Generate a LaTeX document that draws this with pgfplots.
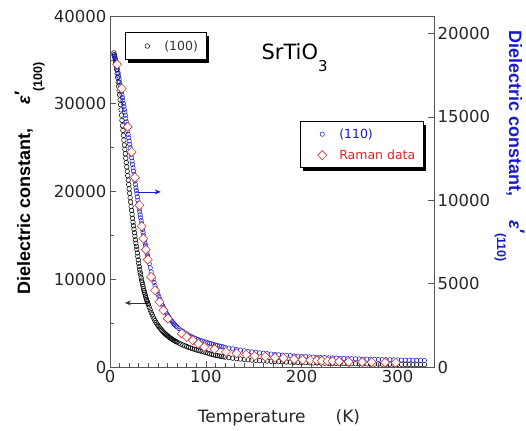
\documentclass[border=0pt]{standalone}
\usepackage{pgfplots}
\pgfplotsset{compat=1.18}
\usepackage{fontspec}
\setmainfont{DejaVu Sans}
\newfontfamily\labfont{Liberation Sans}
\usetikzlibrary{shadows,arrows.meta}

\definecolor{bluec}{RGB}{25,25,205}
\definecolor{redc}{RGB}{225,35,35}
\definecolor{diac}{RGB}{205,60,60}
\definecolor{axc}{RGB}{85,85,85}

\pgfplotstableread{
T eps
4 35800
4.5 35600
5 35400
5.5 35100
6 34700
6.5 34300
7 33900
7.5 33450
8 33000
8.5 32500
9 32000
9.5 31500
10 31000
10.5 30450
11 29900
11.5 29300
12 28700
12.5 28100
13 27500
13.5 26950
14 26400
14.5 25850
15 25300
15.5 24800
16 24300
16.5 23800
17 23300
17.5 22800
18 22300
18.5 21800
19 21300
19.5 20800
20 20300
20.5 19800
21 19300
21.5 18800
22 18300
22.5 17850
23 17400
23.5 16950
24 16500
24.5 16100
25 15700
25.5 15300
26 14900
26.5 14500
27 14100
27.5 13750
28 13400
28.5 13000
29 12600
29.5 12200
30 11800
30.5 11450
31 11100
31.5 10800
32 10500
32.5 10200
33 9900
33.5 9650
34 9400
34.5 9150
35 8900
35.5 8700
36 8500
36.5 8300
37 8100
37.5 7900
38 7700
38.5 7550
39 7400
39.5 7250
40 7100
41 6800
42 6500
43 6200
44 5950
45 5700
46 5480
47 5280
48 5090
49 4910
50 4750
51 4600
52 4450
53 4310
54 4180
55 4060
56 3950
57 3840
58 3740
59 3640
60 3550
61 3460
62 3380
63 3300
64 3220
65 3150
66 3080
67 3010
68 2950
69 2890
70 2830
72 2720
74 2610
76 2510
78 2420
80 2330
82 2250
84 2170
86 2090
88 2020
90 1950
92 1890
94 1830
96 1770
98 1710
100 1660
102 1580
104 1500
106 1440
108 1390
110 1340
112 1290
114 1250
116 1210
118 1170
120 1130
124 1070
128 1010
132 955
136 910
140 865
144 825
148 790
152 760
156 730
160 700
164 675
168 650
172 630
176 610
180 590
184 570
188 555
192 537
196 522
200 508
204 494
208 481
212 469
216 457
220 446
224 435
228 425
232 416
236 407
240 398
244 389
248 381
252 374
256 366
260 359
264 352
268 346
272 339
276 333
280 327
284 321
288 316
292 311
296 305
300 300
304 296
308 291
312 286
316 282
320 278
324 274
328 270
}\tblack

\pgfplotstableread{
T eps
4 18700
4.5 18630
5 18550
5.5 18450
6 18350
6.5 18230
7 18100
7.5 17950
8 17800
8.5 17630
9 17450
9.5 17280
10 17100
10.5 16920
11 16750
11.5 16620
12 16500
12.5 16330
13 16150
13.5 15980
14 15800
14.5 15630
15 15450
15.5 15280
16 15100
16.5 14900
17 14700
17.5 14530
18 14350
18.5 14150
19 13950
19.5 13750
20 13550
20.5 13350
21 13150
21.5 12950
22 12750
22.5 12550
23 12350
23.5 12150
24 11950
24.5 11750
25 11550
25.5 11350
26 11150
26.5 10950
27 10750
27.5 10580
28 10400
28.5 10200
29 10000
29.5 9830
30 9650
30.5 9480
31 9300
31.5 9130
32 8950
32.5 8780
33 8600
33.5 8430
34 8250
34.5 8080
35 7900
35.5 7750
36 7600
36.5 7450
37 7300
37.5 7150
38 7000
38.5 6850
39 6700
39.5 6580
40 6450
41 6200
42 5950
43 5700
44 5480
45 5270
46 5070
47 4880
48 4700
49 4530
50 4370
51 4220
52 4070
53 3930
54 3800
55 3670
56 3550
57 3430
58 3320
59 3220
60 3120
61 3030
62 2940
63 2860
64 2780
65 2710
66 2640
67 2570
68 2510
69 2450
70 2400
72 2300
74 2210
76 2130
78 2050
80 1980
82 1910
84 1850
86 1790
88 1740
90 1690
92 1640
94 1600
96 1560
98 1520
100 1490
102 1455
104 1420
106 1385
108 1350
110 1320
112 1290
114 1260
116 1230
118 1205
120 1180
124 1130
128 1090
132 1050
136 1010
140 975
144 940
148 910
152 880
156 850
160 825
164 800
168 775
172 755
176 735
180 715
184 695
188 680
192 665
196 650
200 635
204 620
208 608
212 596
216 585
220 574
224 563
228 553
232 543
236 534
240 525
244 516
248 508
252 500
256 492
260 485
264 478
268 471
272 464
276 458
280 452
284 446
288 440
292 435
296 430
300 425
304 420
308 415
312 410
316 405
320 400
324 396
328 392
}\tblue

\pgfplotstableread{
T eps
7.5 18150
12.2 16700
18.5 14400
22.6 12900
26.1 11360
30.7 9700
33.1 8440
34.8 7700
37.3 7040
39.4 6440
42.9 5400
47.0 4600
51.6 3900
55.7 3400
60.3 2900
74.9 2000
80.1 1800
86.4 1600
92.3 1400
98.3 1200
109 1070
121 900
132 820
142 740
151 660
162 620
172 560
181 520
192 470
201 430
209 410
216 390
221 370
227 360
232 350
239 330
249 310
263 300
273 290
287 270
298 260
}\traman

\begin{document}
\begin{tikzpicture}[x=1pt,y=1pt]
\useasboundingbox (0,0) rectangle (526,430);
\pgfplotsset{
  myaxis/.style={
    at={(110pt,63pt)}, anchor=south west,
    scale only axis, width=324pt, height=351pt,
    xmin=0, xmax=338,
    tick align=inside,
    major tick length=6pt, minor tick length=3.5pt,
    tick style={axc, line width=0.6pt},
    axis line style={axc, line width=0.8pt},
    ticklabel style={font=\fontsize{16.5}{18}\selectfont, text=black!85},
    /pgf/number format/1000 sep={},
    /pgf/number format/assume math mode=true,
    scaled ticks=false,
    clip=false,
    legend cell align=left,
    legend image code/.code={\draw[##1] plot coordinates {(16pt,0pt)}; \node[inner sep=0pt,outer sep=0pt,draw=none,fill=none,minimum size=0pt] at (0pt,0pt) {}; \node[inner sep=0pt,outer sep=0pt,draw=none,fill=none,minimum size=0pt] at (31pt,0pt) {};},
  }
}
\begin{axis}[myaxis,
  ymin=0, ymax=40000,
  xtick={0,100,200,300}, minor x tick num=9,
  ytick={0,10000,20000,30000,40000}, minor y tick num=1,
  xtick pos=bottom, ytick pos=left,
  legend style={at={(0.046,0.954)}, anchor=north west, draw=black, line width=0.8pt,
    fill=white, drop shadow={shadow xshift=3pt, shadow yshift=-3pt, opacity=1, fill=black},
    font=\fontsize{12.5}{14}\selectfont, inner xsep=6pt, inner ysep=6pt},
]
\addplot[only marks, mark=o, mark size=2.3pt, black, mark options={line width=0.5pt}] table[x=T,y=eps] {\tblack};
\addlegendentry{\textcolor{black!80}{(100)}\hspace{8pt}}
\draw[-{Stealth[length=6pt,width=5pt]}, bluec, line width=0.8pt] (axis cs:29,19950) -- (axis cs:53,19950);
\draw[-{Stealth[length=6pt,width=5pt]}, black!80, line width=0.8pt] (axis cs:39.6,7300) -- (axis cs:15.6,7300);
\end{axis}
\begin{axis}[myaxis,
  ymin=0, ymax=21050,
  axis x line=none, axis y line*=right,
  ytick={0,5000,10000,15000,20000},
  legend style={at={(0.586,0.70)}, anchor=north west, draw=black, line width=0.8pt,
    fill=white, drop shadow={shadow xshift=3pt, shadow yshift=-3pt, opacity=1, fill=black},
    font=\fontsize{12.5}{14}\selectfont, inner xsep=6pt, inner ysep=5pt, row sep=6pt},
]
\addplot[only marks, mark=o, mark size=2.2pt, bluec, mark options={line width=0.5pt}] table[x=T,y=eps] {\tblue};
\addlegendentry{\textcolor{bluec}{(110)}}
\addplot[only marks, mark=square*, mark size=3.2pt, mark options={rotate=45, fill=white, draw=diac, line width=0.6pt}] table[x=T,y=eps] {\traman};
\addlegendentry{\textcolor{redc}{Raman data}}
\end{axis}

\node[anchor=base west, font=\fontsize{21}{24}\selectfont] at (258,370) {SrTiO\raisebox{-12pt}{\fontsize{15}{16}\selectfont 3}};
\node[anchor=base, font=\fontsize{17}{20}\selectfont, text=black!85] at (279,8) {Temperature\hspace{30pt}(K)};
\node[anchor=base west, rotate=90, inner sep=0pt] at (30,135) {\labfont\bfseries\fontsize{18}{20}\selectfont Dielectric constant,\hspace{24pt}\itshape ε\raisebox{3pt}{′}\raisebox{-12pt}{\upshape\fontsize{12.5}{14}\selectfont (100)}};
\node[anchor=base west, rotate=-90, inner sep=0pt, text=bluec] at (509,400) {\labfont\bfseries\fontsize{18}{20}\selectfont Dielectric constant,\hspace{24pt}\itshape ε\raisebox{3pt}{′}\raisebox{-12pt}{\upshape\fontsize{12.5}{14}\selectfont (110)}};
\end{tikzpicture}
\end{document}
